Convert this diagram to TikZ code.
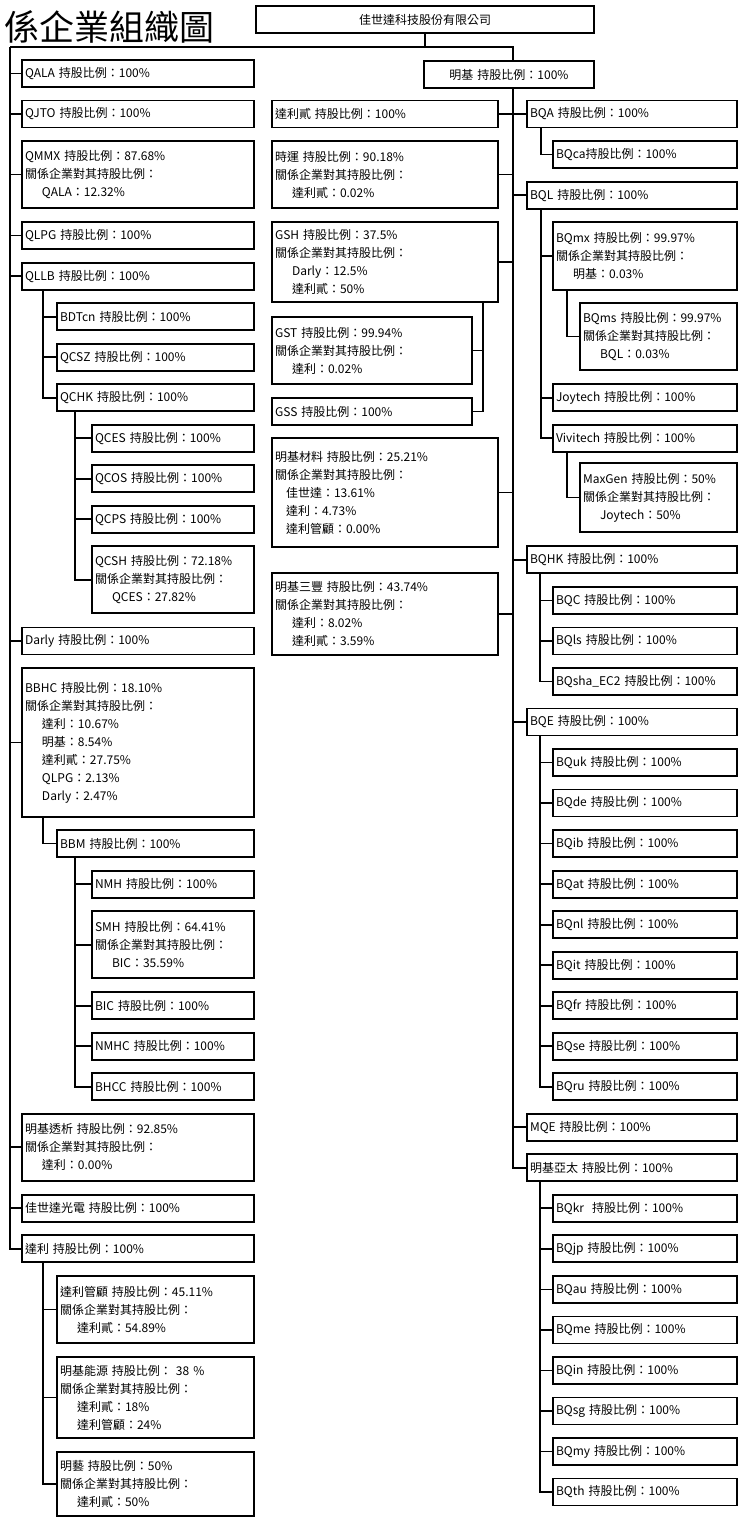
\documentclass[tikz,border=0pt]{standalone}
\usepackage{fontspec}
\setmainfont{Noto Sans CJK TC}
\newcommand{\myind}{\hspace*{17pt}}
\tikzset{
  box/.style={draw, line width=1.8pt, anchor=north west, inner xsep=3pt, inner ysep=0pt, outer sep=0pt, align=left, minimum height=27pt, font=\fontsize{12}{18}\selectfont},
  colA/.style={box, minimum width=232pt, text width=226pt},
  colB/.style={box, minimum width=197pt, text width=191pt},
  colC/.style={box, minimum width=162pt, text width=156pt},
  colM/.style={box, minimum width=226pt, text width=220pt},
  colG/.style={box, minimum width=200pt, text width=194pt},
  colR/.style={box, minimum width=210pt, text width=204pt},
  colRb/.style={box, minimum width=184pt, text width=178pt},
  colRc/.style={box, minimum width=157pt, text width=151pt},
  ht/.style={minimum height=#1pt},
  conn/.style={line width=1.8pt},
}
\begin{document}
\begin{tikzpicture}[x=1pt,y=-1pt]
\useasboundingbox (0,0) rectangle (741,1518);
% title and root
\node[anchor=west, inner sep=0pt, font=\fontsize{35}{35}\selectfont] (title) at (4,27) {係企業組織圖};
\node[box, minimum width=338pt, text width=332pt, align=center] (top) at (256,6) {佳世達科技股份有限公司};
\node[box, minimum width=170pt, text width=164pt, align=center] (mingji) at (424,61) {明基 持股比例：100\%};
% left column
\node[colA] (qala) at (22,60) {QALA 持股比例：100\%};
\node[colA] (qjto) at (22,100.5) {QJTO 持股比例：100\%};
\node[colA, ht=67] (qmmx) at (22,141) {QMMX 持股比例：87.68\%\\關係企業對其持股比例：\\\myind QALA：12.32\%};
\node[colA] (qlpg) at (22,222) {QLPG 持股比例：100\%};
\node[colA] (qllb) at (22,262.6) {QLLB 持股比例：100\%};
\node[colB] (bdtcn) at (57,303.2) {BDTcn 持股比例：100\%};
\node[colB] (qcsz) at (57,343.7) {QCSZ 持股比例：100\%};
\node[colB] (qchk) at (57,384.2) {QCHK 持股比例：100\%};
\node[colC] (qces) at (92,424.7) {QCES 持股比例：100\%};
\node[colC] (qcos) at (92,465.3) {QCOS 持股比例：100\%};
\node[colC] (qcps) at (92,505.8) {QCPS 持股比例：100\%};
\node[colC, ht=67] (qcsh) at (92,546.3) {QCSH 持股比例：72.18\%\\關係企業對其持股比例：\\\myind QCES：27.82\%};
\node[colA] (darly) at (22,627.4) {Darly 持股比例：100\%};
\node[colA, ht=149] (bbhc) at (22,668) {BBHC 持股比例：18.10\%\\關係企業對其持股比例：\\\myind 達利：10.67\%\\\myind 明基：8.54\%\\\myind 達利貳：27.75\%\\\myind QLPG：2.13\%\\\myind Darly：2.47\%};
\node[colB] (bbm) at (57,830) {BBM 持股比例：100\%};
\node[colC] (nmh) at (92,870.6) {NMH 持股比例：100\%};
\node[colC, ht=67] (smh) at (92,911.1) {SMH 持股比例：64.41\%\\關係企業對其持股比例：\\\myind BIC：35.59\%};
\node[colC] (bic) at (92,992.2) {BIC 持股比例：100\%};
\node[colC] (nmhc) at (92,1032.7) {NMHC 持股比例：100\%};
\node[colC] (bhcc) at (92,1073.2) {BHCC 持股比例：100\%};
\node[colA, ht=67] (bqts) at (22,1113.8) {明基透析 持股比例：92.85\%\\關係企業對其持股比例：\\\myind 達利：0.00\%};
\node[colA] (gsdo) at (22,1194.8) {佳世達光電 持股比例：100\%};
\node[colA] (dali) at (22,1235.3) {達利 持股比例：100\%};
\node[colB, ht=67] (dlgg) at (57,1275.9) {達利管顧 持股比例：45.11\%\\關係企業對其持股比例：\\\myind 達利貳：54.89\%};
\node[colB, ht=81] (mjny) at (57,1357) {明基能源 持股比例： 38 \%\\關係企業對其持股比例：\\\myind 達利貳：18\%\\\myind 達利管顧：24\%};
\node[colB, ht=64] (mingyi) at (57,1452) {明藝 持股比例：50\%\\關係企業對其持股比例：\\\myind 達利貳：50\%};
% middle column
\node[colM] (dlr2) at (272,100.5) {達利貳 持股比例：100\%};
\node[colM, ht=67] (shiyun) at (272,141) {時運 持股比例：90.18\%\\關係企業對其持股比例：\\\myind 達利貳：0.02\%};
\node[colM, ht=80] (gsh) at (272,222) {GSH 持股比例：37.5\%\\關係企業對其持股比例：\\\myind Darly：12.5\%\\\myind 達利貳：50\%};
\node[colG, ht=67] (gst) at (272,317) {GST 持股比例：99.94\%\\關係企業對其持股比例：\\\myind 達利：0.02\%};
\node[colG] (gss) at (272,398) {GSS 持股比例：100\%};
\node[colM, ht=109] (mjcl) at (272,438) {明基材料 持股比例：25.21\%\\關係企業對其持股比例：\\\hspace*{11pt}佳世達：13.61\%\\\hspace*{11pt}達利：4.73\%\\\hspace*{11pt}達利管顧：0.00\%};
\node[colM, ht=82] (mjsf) at (272,573) {明基三豐 持股比例：43.74\%\\關係企業對其持股比例：\\\myind 達利：8.02\%\\\myind 達利貳：3.59\%};
% right column
\node[colR] (bqa) at (527,100.5) {BQA 持股比例：100\%};
\node[colRb] (bqca) at (553,141) {BQca持股比例：100\%};
\node[colR] (bql) at (527,181.6) {BQL 持股比例：100\%};
\node[colRb, ht=68] (bqmx) at (553,222) {BQmx 持股比例：99.97\%\\關係企業對其持股比例：\\\myind 明基：0.03\%};
\node[colRc, ht=67] (bqms) at (580,303) {BQms 持股比例：99.97\%\\關係企業對其持股比例：\\\myind BQL：0.03\%};
\node[colRb] (joytech) at (553,384.2) {Joytech 持股比例：100\%};
\node[colRb] (vivitech) at (553,424.7) {Vivitech 持股比例：100\%};
\node[colRc, ht=69] (maxgen) at (580,463) {MaxGen 持股比例：50\%\\關係企業對其持股比例：\\\myind Joytech：50\%};
\node[colR] (bqhk) at (527,546.3) {BQHK 持股比例：100\%};
\node[colRb] (bqc) at (553,586.9) {BQC 持股比例：100\%};
\node[colRb] (bqls) at (553,627.4) {BQls 持股比例：100\%};
\node[colRb] (bqsha) at (553,667.9) {BQsha\_EC2 持股比例：100\%};
\node[colR] (bqe) at (527,708.4) {BQE 持股比例：100\%};
\node[colRb] (bquk) at (553,749) {BQuk 持股比例：100\%};
\node[colRb] (bqde) at (553,789.5) {BQde 持股比例：100\%};
\node[colRb] (bqib) at (553,830) {BQib 持股比例：100\%};
\node[colRb] (bqat) at (553,870.6) {BQat 持股比例：100\%};
\node[colRb] (bqnl) at (553,911.1) {BQnl 持股比例：100\%};
\node[colRb] (bqit) at (553,951.6) {BQit 持股比例：100\%};
\node[colRb] (bqfr) at (553,992.2) {BQfr 持股比例：100\%};
\node[colRb] (bqse) at (553,1032.7) {BQse 持股比例：100\%};
\node[colRb] (bqru) at (553,1073.2) {BQru 持股比例：100\%};
\node[colR] (mqe) at (527,1113.8) {MQE 持股比例：100\%};
\node[colR] (yatai) at (527,1154.3) {明基亞太 持股比例：100\%};
\node[colRb] (bqkr) at (553,1194.8) {BQkr\ \ 持股比例：100\%};
\node[colRb] (bqjp) at (553,1235.3) {BQjp 持股比例：100\%};
\node[colRb] (bqau) at (553,1275.9) {BQau 持股比例：100\%};
\node[colRb] (bqme) at (553,1316.4) {BQme 持股比例：100\%};
\node[colRb] (bqin) at (553,1356.9) {BQin 持股比例：100\%};
\node[colRb] (bqsg) at (553,1397.5) {BQsg 持股比例：100\%};
\node[colRb] (bqmy) at (553,1438) {BQmy 持股比例：100\%};
\node[colRb] (bqth) at (553,1478.5) {BQth 持股比例：100\%};
% connectors: root
\coordinate (jL) at (10,47);
\coordinate (jR) at (513,47);
\draw[conn] (top.south) -- (top.south |- jL);
\draw[conn] (jL) -- (jR) -- (jR |- mingji.north);
% left trunk
\draw[conn] (jL) |- (dali.west);
\foreach \n in {qala,qjto,qmmx,qlpg,qllb,darly,bbhc,bqts,gsdo}
  \draw[conn] (jL |- \n.west) -- (\n.west);
\foreach \n in {bdtcn,qcsz,qchk}
  \draw[conn] ([xshift=21pt]qllb.south west) |- (\n.west);
\foreach \n in {qces,qcos,qcps,qcsh}
  \draw[conn] ([xshift=18pt]qchk.south west) |- (\n.west);
\draw[conn] ([xshift=21pt]bbhc.south west) |- (bbm.west);
\foreach \n in {nmh,smh,bic,nmhc,bhcc}
  \draw[conn] ([xshift=18pt]bbm.south west) |- (\n.west);
\foreach \n in {dlgg,mjny,mingyi}
  \draw[conn] ([xshift=21pt]dali.south west) |- (\n.west);
% BenQ trunk
\draw[conn] (jR |- mingji.south) |- (yatai.west);
\foreach \n in {dlr2,shiyun,gsh,mjcl,mjsf}
  \draw[conn] (jR |- \n.east) -- (\n.east);
\foreach \n in {bqa,bql,bqhk,bqe,mqe}
  \draw[conn] (jR |- \n.west) -- (\n.west);
\foreach \n in {gst,gss}
  \draw[conn] ([xshift=-15pt]gsh.south east) |- (\n.east);
\draw[conn] ([xshift=14pt]bqa.south west) |- (bqca.west);
\foreach \n in {bqmx,joytech,vivitech}
  \draw[conn] ([xshift=14pt]bql.south west) |- (\n.west);
\draw[conn] ([xshift=14pt]bqmx.south west) |- (bqms.west);
\draw[conn] ([xshift=14pt]vivitech.south west) |- (maxgen.west);
\foreach \n in {bqc,bqls,bqsha}
  \draw[conn] ([xshift=13pt]bqhk.south west) |- (\n.west);
\foreach \n in {bquk,bqde,bqib,bqat,bqnl,bqit,bqfr,bqse,bqru}
  \draw[conn] ([xshift=13pt]bqe.south west) |- (\n.west);
\foreach \n in {bqkr,bqjp,bqau,bqme,bqin,bqsg,bqmy,bqth}
  \draw[conn] ([xshift=13pt]yatai.south west) |- (\n.west);
\end{tikzpicture}
\end{document}
